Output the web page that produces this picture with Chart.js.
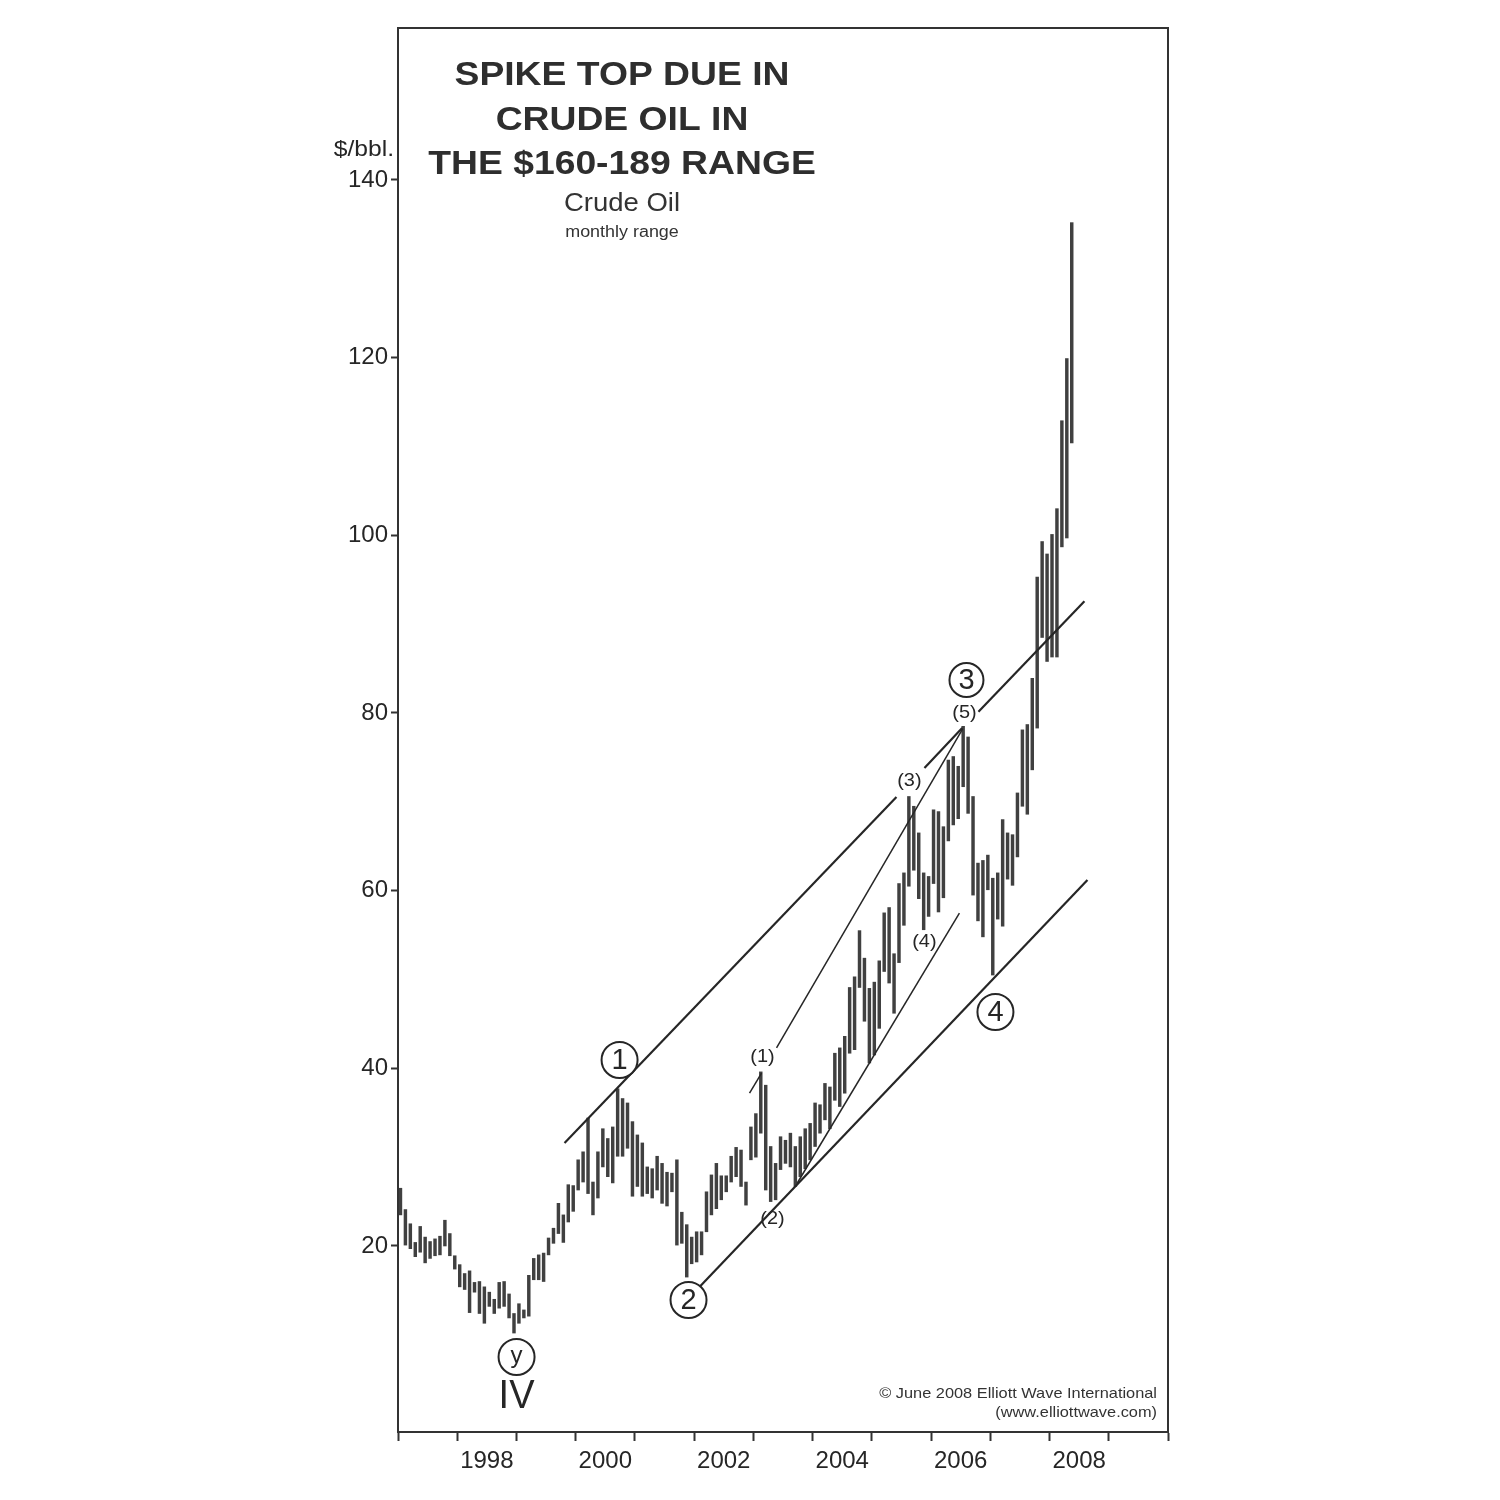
<!DOCTYPE html>
<html><head><meta charset="utf-8">
<script src="https://cdn.jsdelivr.net/npm/chart.js@4.4.1/dist/chart.umd.min.js"></script>
<style>html,body{margin:0;padding:0;background:#fff}#wrap{width:1500px;height:1500px;position:relative}</style>
</head><body><div id="wrap"><canvas id="c"></canvas></div>
<script>
// Monthly crude oil range, Jan 1997 .. May 2008 (month index 0 = Jan 1997)
const startYear = 1997;
const highs = [
 26.5,24.1,22.5,20.4,22.2,21.0,20.5,20.8,21.1,22.9,21.4,18.9,
 17.9,16.9,17.2,15.9,16.0,15.4,14.8,14.0,15.9,16.0,14.6,12.4,
 13.5,12.8,16.7,18.6,19.0,19.2,20.9,22.0,24.8,23.5,26.9,26.8,
 29.7,30.6,34.4,27.2,30.6,33.2,32.1,33.4,37.7,36.6,36.1,34.0,
 32.5,31.6,28.9,28.7,30.1,29.3,28.3,28.2,29.7,23.8,22.4,21.0,
 21.6,21.6,26.1,28.0,29.3,27.9,27.9,30.1,31.1,30.8,27.2,33.4,
 34.9,39.6,38.1,31.2,29.3,32.3,31.9,32.7,31.2,32.3,33.2,33.8,
 36.1,35.9,38.3,37.9,41.7,42.3,43.6,49.1,50.3,55.5,52.4,49.0,
 49.7,52.1,57.5,58.1,52.9,60.8,62.0,70.6,69.5,66.5,62.0,61.6,
 69.1,68.9,67.2,74.7,75.1,74.0,78.5,77.3,70.6,63.1,63.4,64.0,
 61.4,62.0,68.0,66.5,66.3,71.0,78.1,78.7,83.9,95.3,99.3,97.9,
 100.1,103.0,112.9,119.9,135.2
];
const lows = [
 23.5,20.1,19.7,18.8,19.3,18.1,18.6,18.9,19.0,20.0,18.9,17.4,
 15.4,15.1,12.5,14.8,12.4,11.3,13.2,12.4,13.0,13.2,11.9,10.2,
 11.3,11.9,12.1,16.2,16.2,16.0,19.0,20.3,21.4,20.4,22.7,23.9,
 26.3,27.2,25.9,23.5,25.4,28.9,27.8,27.1,30.1,30.1,31.0,25.6,
 26.7,25.6,25.9,25.4,26.3,24.8,24.5,26.1,20.1,20.3,16.5,18.0,
 18.2,19.0,21.6,23.5,24.2,25.2,26.1,27.2,27.8,26.7,24.6,29.7,
 30.0,32.7,26.3,25.0,25.2,28.6,29.3,28.9,26.7,27.8,28.7,29.7,
 31.2,32.7,34.2,33.2,36.4,35.7,37.2,41.7,42.1,49.1,45.3,40.6,
 41.5,44.5,50.9,49.6,46.2,51.9,56.1,60.5,62.3,59.1,55.6,57.1,
 60.8,57.6,59.2,65.6,67.4,68.1,71.7,68.7,59.5,56.6,54.8,60.1,
 50.5,56.8,56.0,61.3,60.6,63.8,69.5,68.6,73.6,78.3,88.5,85.8,
 86.3,86.3,98.7,99.7,110.4
];
const yTicks = [20,40,60,80,100,120,140];
const yearLabels = [1998,2000,2002,2004,2006,2008];

// Trend lines, [month, $] pairs
const upperChannelA = [[33.74,31.59],[100.99,70.53]];
const upperChannelB = [[106.66,73.81],[114.3,78.3]];
const upperChannelC = [[117.6,80.14],[139.07,92.57]];
const lowerChannel  = [[61.07,15.38],[139.68,61.20]];
const wave15A = [[71.22,37.22],[73.65,39.47]];
const wave15B = [[76.69,42.29],[114.4,78.2]];
const wave24  = [[80.9,27.09],[113.74,57.48]];

// Wave labels
const circleText = ['y','1','2','3','4'];
const circleX = [24.02,44.89,58.86,115.17,121.04];
const circleY = [7.5,40.93,13.92,83.71,46.34];
const waveText = ['(1)','(2)','(3)','(4)','(5)'];
const waveX = [73.85,75.88,103.61,106.65,114.76];
const waveY = [41.27,23.03,72.34,54.22,80.0];
const degreeText = ['IV'];
const degreeX = [24.02];
const degreeY = [3.0];

const titleLines = ['SPIKE TOP DUE IN','CRUDE OIL IN','THE $160-189 RANGE'];
const subTitle = 'Crude Oil';
const subSub = 'monthly range';
const unitLabel = '$/bbl.';
const credit = ['\u00A9 June 2008 Elliott Wave International','(www.elliottwave.com)'];

const FAM = "'Liberation Sans', Arial, Helvetica, sans-serif";
const INK = '#262626';

const barData = highs.map((h,i)=>({x:i+0.5, y:[lows[i], h]}));
const seg = (pts)=>pts.map(p=>({x:p[0], y:p[1]}));
function lineDs(pts, w){
  return {type:'line', data:seg(pts), borderColor:INK, borderWidth:w, pointRadius:0, fill:false, order:1, tension:0};
}

function sText(ctx, txt, x, y, font, align, sx, color){
  ctx.save();
  ctx.font = font; ctx.textAlign = align; ctx.textBaseline = 'middle'; ctx.fillStyle = color || INK;
  ctx.translate(x, y); ctx.scale(sx, 1);
  ctx.fillText(txt, 0, 0);
  ctx.restore();
}

const deco = {
  id:'deco',
  afterDatasetsDraw(chart){
    const ctx = chart.ctx, xs = chart.scales.x, ys = chart.scales.y;
    circleText.forEach((t,i)=>{
      const f = t === 'y' ? `24px ${FAM}` : `29px ${FAM}`;
      sText(ctx, t, xs.getPixelForValue(circleX[i]), ys.getPixelForValue(circleY[i]) + (t==='y'? -1 : 1), f, 'center', 1.0);
    });
    waveText.forEach((t,i)=>{
      sText(ctx, t, xs.getPixelForValue(waveX[i]), ys.getPixelForValue(waveY[i]), `19px ${FAM}`, 'center', 1.05);
    });
    degreeText.forEach((t,i)=>{
      sText(ctx, t, xs.getPixelForValue(degreeX[i]), ys.getPixelForValue(degreeY[i]), `40px ${FAM}`, 'center', 0.95);
    });
  },
  afterDraw(chart){
    const ctx = chart.ctx, a = chart.chartArea;
    ctx.save();
    ctx.strokeStyle = '#333'; ctx.lineWidth = 2;
    ctx.strokeRect(a.left, a.top, a.right - a.left, a.bottom - a.top);
    ctx.restore();
    const cx = a.left + 224;
    titleLines.forEach((t,i)=> sText(ctx, t, cx, a.top + 48 + i*44.5, `bold 33px ${FAM}`, 'center', 1.13, '#2e2e2e'));
    sText(ctx, subTitle, cx, a.top + 176, `25px ${FAM}`, 'center', 1.1, '#333');
    sText(ctx, subSub, cx, a.top + 205, `16px ${FAM}`, 'center', 1.12, '#333');
    sText(ctx, unitLabel, a.left - 4, a.top + 122, `22px ${FAM}`, 'right', 1.12);
    sText(ctx, credit[0], a.right - 11, a.bottom - 38, `15px ${FAM}`, 'right', 1.09, '#333');
    sText(ctx, credit[1], a.right - 11, a.bottom - 19, `15px ${FAM}`, 'right', 1.09, '#333');
  }
};

new Chart(document.getElementById('c'), {
  type:'bar',
  data:{
    datasets:[
      {type:'line', data: circleX.map((x,i)=>({x, y:circleY[i]})), showLine:false,
       pointRadius: circleText.map(t=> t==='3' ? 17 : 18), pointHoverRadius:0,
       pointBackgroundColor:'#fff', pointBorderColor:INK, pointBorderWidth:2, order:0},
      lineDs(upperChannelA, 2.2), lineDs(upperChannelB, 2.2), lineDs(upperChannelC, 2.2),
      lineDs(lowerChannel, 2.2),
      lineDs(wave15A, 1.5), lineDs(wave15B, 1.5), lineDs(wave24, 1.5),
      {type:'bar', data: barData, backgroundColor:'#404040', borderWidth:0, barThickness:2.8, order:2}
    ]
  },
  options:{
    responsive:true, maintainAspectRatio:false, animation:false,
    devicePixelRatio:1,
    layout:{padding:{left:0, top:28, right:332, bottom:0}},
    plugins:{legend:{display:false}, tooltip:{enabled:false}, title:{display:false}},
    scales:{
      x:{type:'linear', min:0, max:156, offset:false,
        afterBuildTicks: s => { const t=[]; for(let v=0; v<=156; v+=6) t.push({value:v}); s.ticks = t; },
        ticks:{autoSkip:false, maxRotation:0, minRotation:0, padding:6, color:INK,
          font:{size:24, family:FAM},
          callback: v => { if (v % 12 !== 6) return ''; const yr = startYear + (v-6)/12; return yearLabels.includes(yr) ? String(yr) : ''; }},
        grid:{drawOnChartArea:false, offset:false, tickLength:9, tickWidth:2,
          tickColor: c => (c.tick && c.tick.value % 12 === 0) ? '#333' : 'rgba(0,0,0,0)'},
        border:{display:true, color:'#333', width:2},
        afterFit: s => { s.height = 68; }
      },
      y:{type:'linear', min:-0.94, max:157.11,
        afterBuildTicks: s => { s.ticks = yTicks.map(v=>({value:v})); },
        ticks:{color:INK, padding:3, font:{size:24, family:FAM}},
        grid:{drawOnChartArea:false, tickLength:7, tickWidth:2, tickColor:'#333'},
        border:{display:true, color:'#333', width:2},
        afterFit: s => { s.width = 398; }
      }
    }
  },
  plugins:[deco]
});
</script>
</body></html>
